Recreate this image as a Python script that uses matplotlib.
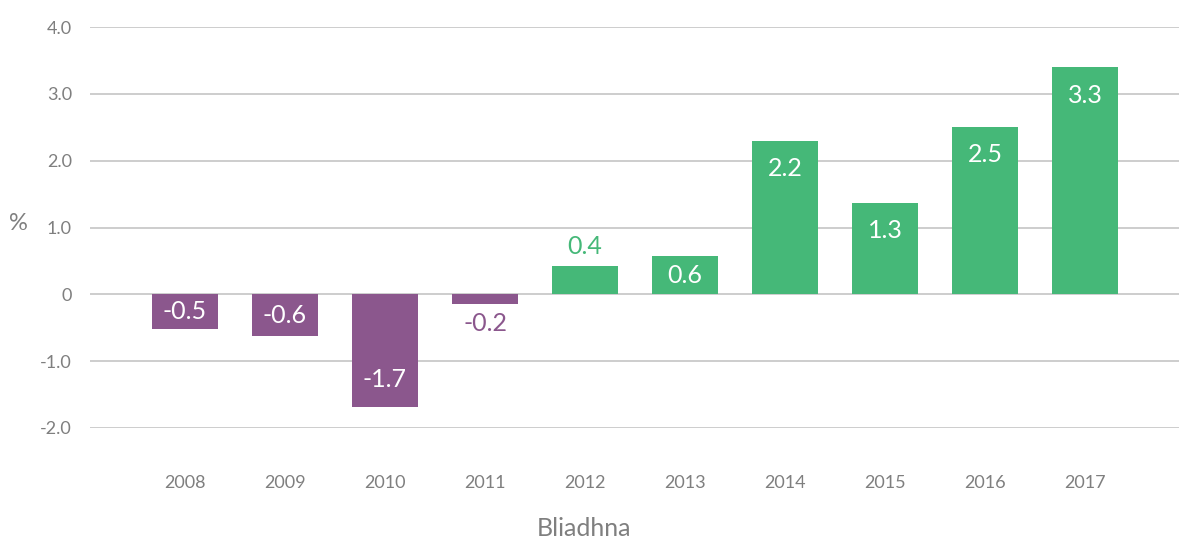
import numpy as np
import matplotlib
matplotlib.use("Agg")
import matplotlib.pyplot as plt

plt.rcParams["font.family"] = ["Lato", "DejaVu Sans"]

# data
years = ["2008", "2009", "2010", "2011", "2012", "2013", "2014", "2015", "2016", "2017"]
values = [-0.52, -0.63, -1.69, -0.15, 0.43, 0.57, 2.30, 1.37, 2.51, 3.40]
labels = ["-0.5", "-0.6", "-1.7", "-0.2", "0.4", "0.6", "2.2", "1.3", "2.5", "3.3"]
yticks = [-2.0, -1.0, 0, 1.0, 2.0, 3.0, 4.0]
ytick_labels = ["-2.0", "-1.0", "0", "1.0", "2.0", "3.0", "4.0"]

purple = "#8B578D"
green = "#45B878"
grey = "#7F7F7F"

fig = plt.figure(figsize=(11.79, 5.39), dpi=100)
ax = fig.add_axes([90 / 1179, 1 - 428 / 539, 1 - 90 / 1179, (428 - 27) / 539])

x = np.arange(len(years))
colors = [green if v >= 0 else purple for v in values]
ax.bar(x, values, width=0.66, color=colors, zorder=3)

# value labels: inside the bar end, outside when the bar is small
for xi, v, lab, c in zip(x, values, labels, colors):
    if abs(v) < 0.5:
        off = 0.29
        y = v + off if v >= 0 else v - off
        ax.text(xi, y, lab, ha="center", va="center", color=c, fontsize=18)
    else:
        off = min(0.42, abs(v) / 2)
        y = v - off if v >= 0 else v + off
        ax.text(xi, y, lab, ha="center", va="center", color="white", fontsize=18)

ax.set_xlim(-0.95, 9.94)
ax.set_ylim(-2.0, 4.0)
ax.set_yticks(yticks)
ax.set_yticklabels(ytick_labels)
ax.set_xticks(x)
ax.set_xticklabels(years)
ax.tick_params(axis="both", length=0, colors=grey, labelsize=13)
ax.tick_params(axis="y", pad=13)
ax.tick_params(axis="x", pad=34)

ax.grid(axis="y", color="#C0C0C0", linewidth=1.1, zorder=0)
ax.set_axisbelow(True)
for s in ax.spines.values():
    s.set_visible(False)

fig.text(18 / 1179, 1 - 224 / 539, "%", ha="center", va="center", color=grey, fontsize=17)
fig.text(584 / 1179, 1 - 528 / 539, "Bliadhna", ha="center", va="center", color=grey, fontsize=18)

fig.savefig("out.png", dpi=100)
